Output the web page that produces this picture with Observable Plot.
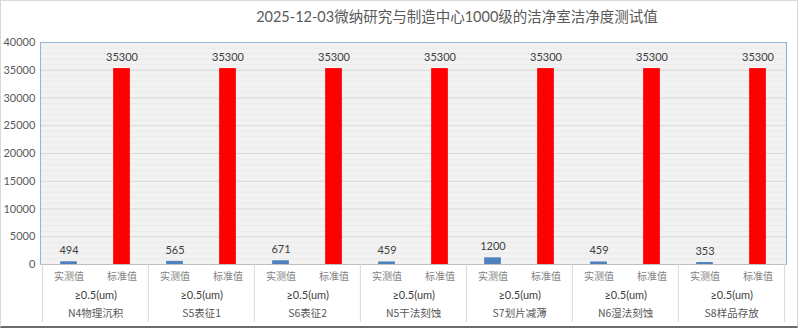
<!DOCTYPE html>
<html>
<head>
<meta charset="utf-8">
<script src="https://cdn.jsdelivr.net/npm/d3@7"></script>
<script src="https://cdn.jsdelivr.net/npm/@observablehq/plot@0.6"></script>
<style>
  html, body { margin: 0; padding: 0; background: #fff; }
  #wrap { position: relative; width: 798px; height: 328px; overflow: hidden; }
  #title { height: 34px; line-height: 34px; width: 798px; box-sizing: border-box; padding-left: 116px;
    text-align: center; font-family: Lato, "Noto Sans CJK SC", sans-serif; font-size: 14.5px; color: #595959; }
  #border { position: absolute; left: 0; top: 0; width: 798px; height: 328px; box-sizing: border-box;
    border: 1px solid #d9d9d9; border-bottom: 2px solid #6b6b6b; pointer-events: none; }
  svg { display: block; }
</style>
</head>
<body>
<div id="wrap">
  <div id="title">2025-12-03微纳研究与制造中心1000级的洁净室洁净度测试值</div>
  <div id="chart"></div>
  <div id="border"></div>
</div>
<script>
const groups = ["N4物理沉积", "S5表征1", "S6表征2", "N5干法刻蚀", "S7划片减薄", "N6湿法刻蚀", "S8样品存放"];
const subs = ["实测值", "标准值"];
const measured = [494, 565, 671, 459, 1200, 459, 353];
const standard = [35300, 35300, 35300, 35300, 35300, 35300, 35300];
const sizeLabel = "≥0.5(um)";
const yTicks = [0, 5000, 10000, 15000, 20000, 25000, 30000, 35000, 40000];
const minorTicks = d3.range(0, 40001, 1000);

const W = 798, H = 294, mT = 8, mB = 64, mL = 40, mR = 12;
const plotH = H - mT - mB;
const keys = groups.flatMap(g => subs.map(s => g + "|" + s));
const step = (W - mL - mR) / keys.length;

const rows = groups.flatMap((g, i) => [
  {key: g + "|" + subs[0], sub: subs[0], value: measured[i], color: "#4f81bd"},
  {key: g + "|" + subs[1], sub: subs[1], value: standard[i], color: "#ff0000"}
]);

const latin = 'Lato, "Noto Sans CJK SC", sans-serif';
const cjk = '"Noto Sans CJK SC", sans-serif';

const chart = Plot.plot({
  width: W, height: H,
  marginTop: mT, marginBottom: mB, marginLeft: mL, marginRight: mR,
  style: {fontFamily: latin, background: "transparent", overflow: "visible"},
  x: {type: "band", domain: keys, padding: 0, axis: null},
  y: {domain: [0, 40000], axis: null},
  marks: [
    Plot.frame({fill: "#f2f2f2"}),
    Plot.ruleY(minorTicks, {stroke: "#eaeaea", strokeWidth: 1}),
    Plot.ruleY(yTicks, {stroke: "#d9d9d9", strokeWidth: 1.2}),
    Plot.frame({stroke: "#95b3d7"}),
    Plot.ruleY([0], {stroke: "#bfbfbf"}),
    Plot.barY(rows, {x: "key", y: "value", fill: "color", insetLeft: (step - 17) / 2, insetRight: (step - 17) / 2}),
    Plot.text(rows, {x: "key", y: "value", text: d => String(d.value), dy: -11, lineAnchor: "middle",
      fontSize: 11, fill: "#404040", fontFamily: latin}),
    // y axis labels
    Plot.text(yTicks, {x: () => keys[0], y: d => d, text: d => String(d), dx: -step / 2 - 7, textAnchor: "end",
      lineAnchor: "middle", fontSize: 11, fill: "#595959", fontFamily: latin}),
    // category separators
    Plot.ruleX(groups, {x: g => g + "|" + subs[0], dx: -step / 2, stroke: "#d9d9d9", insetTop: plotH, insetBottom: -58}),
    Plot.ruleX([groups[groups.length - 1]], {x: g => g + "|" + subs[1], dx: step / 2, stroke: "#d9d9d9", insetTop: plotH, insetBottom: -58}),
    // level 1 labels
    Plot.text(rows, {x: "key", text: "sub", frameAnchor: "bottom", dy: 12, lineAnchor: "middle",
      fontSize: 10, fill: "#7f7f7f", fontFamily: cjk}),
    // level 2 labels
    Plot.text(groups, {x: g => g + "|" + subs[0], text: () => sizeLabel, dx: step / 2, frameAnchor: "bottom", dy: 31,
      lineAnchor: "middle", fontSize: 11, fill: "#404040", fontFamily: latin}),
    // level 3 labels
    Plot.text(groups, {x: g => g + "|" + subs[0], text: g => g, dx: step / 2, frameAnchor: "bottom", dy: 49,
      lineAnchor: "middle", fontSize: 10.5, fill: "#595959", fontFamily: cjk})
  ]
});
document.getElementById("chart").appendChild(chart);
</script>
</body>
</html>
